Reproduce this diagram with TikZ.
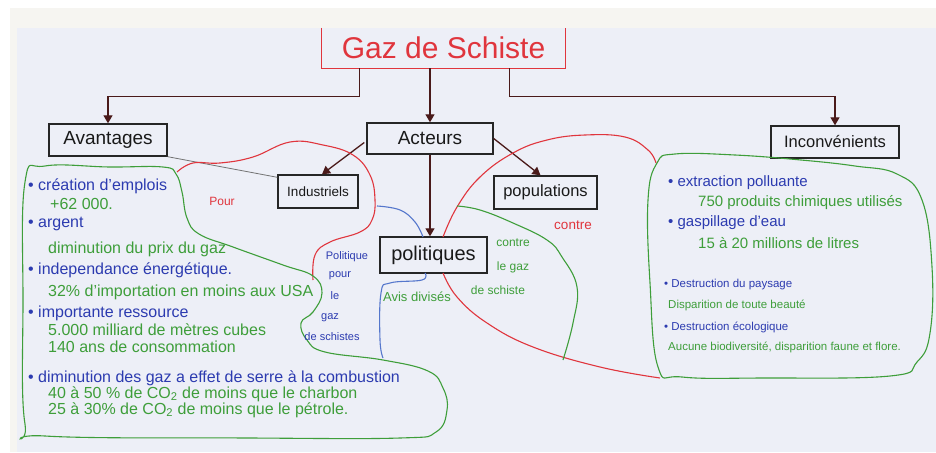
\documentclass[tikz,border=0pt]{standalone}
\usepackage{fontspec}
\setmainfont{Liberation Sans}
\usetikzlibrary{arrows.meta,calc}
\definecolor{lav}{HTML}{EDEFF7}
\definecolor{paper}{HTML}{F6F5F1}
\definecolor{hred}{HTML}{E0353D}
\definecolor{hgreen}{HTML}{3E9E3A}
\definecolor{hblue}{HTML}{2C3BB0}
\definecolor{maroonc}{HTML}{4A1A1A}
\definecolor{lblue}{HTML}{5577CC}
\tikzset{
  mmbox/.style={draw=black!85, line width=1.4pt, inner sep=0pt, text=black!90},
  arr/.style={draw=maroonc, line width=1.3pt, -{Triangle[length=8pt,width=9pt]}},
  txt/.style={inner sep=0pt, anchor=west},
  lt/.style={txt, font=\fontsize{16}{18}\selectfont},
  rt/.style={txt, font=\fontsize{15}{17}\selectfont},
  st/.style={txt, font=\fontsize{11.5}{13}\selectfont},
  lab/.style={inner sep=0pt},
  curve/.style={line width=1.1pt, smooth, tension=0.7}
}
\begin{document}
\begin{tikzpicture}[x=1pt,y=-1pt]
\useasboundingbox (0,0) rectangle (936,452);
\fill[white] (0,0) rectangle (936,452);
\fill[paper] (10,8) rectangle (936,452);
\fill[lav] (17,28) rectangle (936,452);

% title
\node[lab, minimum width=243pt, minimum height=40pt, text=hred, font=\fontsize{30}{32}\selectfont] (title) at (443.5,48) {Gaz de Schiste};
\draw[hred, line width=1.3pt] (title.north west) -- (title.south west) -- (title.south east) -- (title.north east);

% boxes
\node[mmbox, minimum width=118pt, minimum height=32pt, font=\fontsize{19}{20}\selectfont] (avantages) at (108,140) {Avantages};
\node[mmbox, minimum width=126pt, minimum height=31pt, font=\fontsize{19}{20}\selectfont] (acteurs) at (430,138.5) {Acteurs};
\node[mmbox, minimum width=80pt, minimum height=33pt, font=\fontsize{13.5}{15}\selectfont] (industriels) at (318,191.5) {Industriels};
\node[mmbox, minimum width=103pt, minimum height=33pt, font=\fontsize{16.5}{18}\selectfont] (populations) at (545.5,192.5) {populations};
\node[mmbox, minimum width=107pt, minimum height=36pt, font=\fontsize{20}{22}\selectfont] (politiques) at (433.5,255) {politiques};
\node[mmbox, minimum width=128pt, minimum height=32pt, font=\fontsize{16.5}{18}\selectfont] (inconvenients) at (835,142) {Inconvénients};

% connectors
\draw[arr] ([xshift=38pt]title.south west) -- ++(0,28) -| (avantages.north);
\draw[arr] (acteurs.north |- title.south) -- (acteurs.north);
\draw[arr] ([xshift=-56pt]title.south east) -- ++(0,28) -| (inconvenients.north);
\draw[arr] ($(acteurs.west)+(-2,4)$) -- ($(industriels.north)+(4,0)$);
\draw[arr] (acteurs.east) -- ($(populations.north)+(-5,0)$);
\draw[arr] (acteurs.south) -- (acteurs.south |- politiques.north);
\draw[black!55, line width=0.8pt] (avantages.south east) -- ($(industriels.north west)+(0,3)$);

% red "pour" curve
\draw[hred, curve] plot coordinates {(177,172) (193,163) (220,163) (253,157) (290,142) (323,145) (353,155) (370,175) (375,200) (372,220) (360,232) (330,242) (315,255) (313,280)};
% blue curves
\draw[lblue, curve] plot coordinates {(377,206) (400,210) (415,222) (423,237)};
\draw[lblue, curve] plot coordinates {(425,273) (422,280) (390,283) (381,293) (380,340) (383,358)};
% red contre curves
\draw[hred, curve] plot coordinates {(443,237) (457,207) (480,177) (513,153) (547,140) (585,135) (625,137) (648,150) (656,163)};
\draw[hred, curve] plot coordinates {(443,273) (457,297) (487,323) (533,347) (600,367) (660,378)};
% green contre line
\draw[hgreen, curve] plot coordinates {(457,206) (480,210) (513,223) (547,240) (562,257) (577,287) (573,323) (563,360)};

% left green region
\draw[hgreen, curve] plot[smooth cycle] coordinates {(45,166) (110,167) (163,167) (176,174) (182,192) (187,218) (199,234) (233,247) (283,265) (313,276) (322,293) (313,312) (301,323) (307,340) (325,352) (383,360) (428,371) (443,388) (447,410) (436,432) (400,438) (250,438) (45,436) (25,424) (23,300) (25,182)};
% right green region
\draw[hgreen, curve] plot[smooth cycle] coordinates {(657,163) (675,154) (735,155) (801,160) (855,166) (897,174) (922,200) (932,267) (930,333) (917,362) (890,376) (763,378) (682,377) (658,367) (650,283) (648,200)};

% left texts
\node[lt, text=hblue] (l1) at (28,186) {• création d'emplois};
\node[lt, text=hgreen] (l2) at (50,204) {+62 000.};
\node[lt, text=hblue] (l3) at (28,224) {• argent};
\node[lt, text=hgreen] (l4) at (48,249) {diminution du prix du gaz};
\node[lt, text=hblue] (l5) at (28,270) {• independance énergétique.};
\node[lt, text=hgreen] (l6) at (48,292) {32\% d'importation en moins aux USA};
\node[lt, text=hblue] (l7) at (28,313) {• importante ressource};
\node[lt, text=hgreen] (l8) at (48,330) {5.000 milliard de mètres cubes};
\node[lt, text=hgreen] (l9) at (48,347) {140 ans de consommation};
\node[lt, text=hblue] (l10) at (28,378) {• diminution des gaz a effet de serre à la combustion};
\node[lt, text=hgreen] (l11) at (48,394) {40 à 50 \% de CO\textsubscript{2} de moins que le charbon};
\node[lt, text=hgreen] (l12) at (48,410) {25 à 30\% de CO\textsubscript{2} de moins que le pétrole.};

% right texts
\node[rt, text=hblue] (r1) at (668,183) {• extraction polluante};
\node[rt, text=hgreen] (r2) at (698,203) {750 produits chimiques utilisés};
\node[rt, text=hblue] (r3) at (668,223) {• gaspillage d'eau};
\node[rt, text=hgreen] (r4) at (698,243) {15 à 20 millions de litres};
\node[st, text=hblue] (r5) at (664,285) {• Destruction du paysage};
\node[st, text=hgreen] (r6) at (668,305) {Disparition de toute beauté};
\node[st, text=hblue] (r7) at (664,327) {• Destruction écologique};
\node[st, text=hgreen] (r8) at (668,347) {Aucune biodiversité, disparition faune et flore.};

% labels
\node[lab, text=hred, font=\fontsize{12}{13}\selectfont] (pour) at (222,201) {Pour};
\node[lab, text=hred, font=\fontsize{13.5}{15}\selectfont] (contre) at (573,225) {contre};
\node[lab, text=hgreen, font=\fontsize{12}{13}\selectfont] (c1) at (513,243) {contre};
\node[lab, text=hgreen, font=\fontsize{12}{13}\selectfont] (c2) at (513,267) {le gaz};
\node[lab, text=hgreen, font=\fontsize{12}{13}\selectfont] (c3) at (498,290) {de schiste};
\node[lab, text=hblue, font=\fontsize{11}{12}\selectfont] (b1) at (347,257) {Politique};
\node[lab, text=hblue, font=\fontsize{11}{12}\selectfont] (b2) at (340,276) {pour};
\node[lab, text=hblue, font=\fontsize{11}{12}\selectfont] (b3) at (335,296) {le};
\node[lab, text=hblue, font=\fontsize{11}{12}\selectfont] (b4) at (330,318) {gaz};
\node[lab, text=hblue, font=\fontsize{11}{12}\selectfont] (b5) at (332,337) {de schistes};
\node[lab, text=hgreen, font=\fontsize{13}{14}\selectfont] (avis) at (417,297) {Avis divisés};
\end{tikzpicture}
\end{document}
